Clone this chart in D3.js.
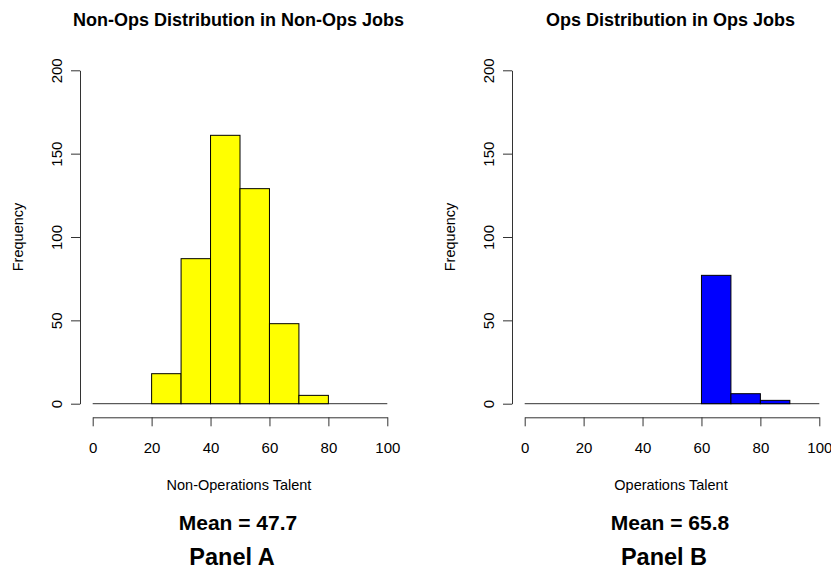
<!DOCTYPE html>
<html><head><meta charset="utf-8">
<script src="https://cdn.jsdelivr.net/npm/d3@7"></script>
<style>
body{margin:0;background:#fff;}
text{font-family:"Liberation Sans",Arial,sans-serif;fill:#000;}
</style></head>
<body><svg id="c" width="831" height="569"></svg>
<script>
const binEdges = [0,10,20,30,40,50,60,70,80,90,100];
const nonOpsCounts = [0,0,18,87,161,129,48,5,0,0];
const opsCounts = [0,0,0,0,0,0,77,6,2,0];
const xTicks = [0,20,40,60,80,100];
const yTicks = [0,50,100,150,200];
const panels = [
  {title:"Non-Ops Distribution in Non-Ops Jobs", xlab:"Non-Operations Talent", mean:"Mean = 47.7", panel:"Panel A", counts:nonOpsCounts, color:"#ffff00"},
  {title:"Ops Distribution in Ops Jobs", xlab:"Operations Talent", mean:"Mean = 65.8", panel:"Panel B", counts:opsCounts, color:"#0000ff"}
];

const svg = d3.select("#c");
const offset = 432;
panels.forEach((p,i)=>{
  const g = svg.append("g").attr("transform",`translate(${i*offset},0)`);
  const x = d3.scaleLinear().domain([0,100]).range([92.7,387.3]);
  const y = d3.scaleLinear().domain([0,200]).range([403.7,70.3]);
  const bins = p.counts.map((c,k)=>({x0:binEdges[k],x1:binEdges[k+1],c}));
  // baseline for zero bins
  g.append("line").attr("x1",x(0)).attr("x2",x(100)).attr("y1",y(0)).attr("y2",y(0))
    .attr("stroke","#333").attr("stroke-width",1);
  g.selectAll("rect.bar").data(bins.filter(b=>b.c>0)).join("rect")
    .attr("x",d=>x(d.x0)).attr("width",d=>x(d.x1)-x(d.x0))
    .attr("y",d=>y(d.c)).attr("height",d=>y(0)-y(d.c))
    .attr("fill",p.color).attr("stroke","#000").attr("stroke-width",1);
  // y axis
  const ya = g.append("g").attr("transform","translate(80,0)")
    .call(d3.axisLeft(y).tickValues(yTicks).tickSize(9).tickSizeOuter(0));
  ya.selectAll("path,line").attr("stroke","#333");
  ya.selectAll("text").attr("x",null).attr("dy",null)
    .attr("transform","translate(-18,0) rotate(-90)")
    .attr("text-anchor","middle").style("font-size","15px")
    .style("font-family","'Liberation Sans',Arial,sans-serif").attr("fill","#000");
  // x axis
  const xa = g.append("g").attr("transform","translate(0,417.3)")
    .call(d3.axisBottom(x).tickValues(xTicks).tickSize(9).tickSizeOuter(0));
  xa.selectAll("path,line").attr("stroke","#333");
  xa.selectAll("text").attr("y",35.5).attr("dy",null)
    .style("font-size","15px").style("font-family","'Liberation Sans',Arial,sans-serif").attr("fill","#000");
  // labels
  g.append("text").attr("transform","translate(23,237) rotate(-90)").attr("text-anchor","middle")
    .style("font-size","14.5px").text("Frequency");
  g.append("text").attr("x",238.5).attr("y",26).attr("text-anchor","middle")
    .style("font-size","18px").style("font-weight","bold").text(p.title);
  g.append("text").attr("x",239).attr("y",490).attr("text-anchor","middle")
    .style("font-size","14.5px").text(p.xlab);
  g.append("text").attr("x",238).attr("y",530).attr("text-anchor","middle")
    .style("font-size","21px").style("font-weight","bold").text(p.mean);
  g.append("text").attr("x",232).attr("y",565).attr("text-anchor","middle")
    .style("font-size","23.5px").style("font-weight","bold").text(p.panel);
});
</script></body></html>
